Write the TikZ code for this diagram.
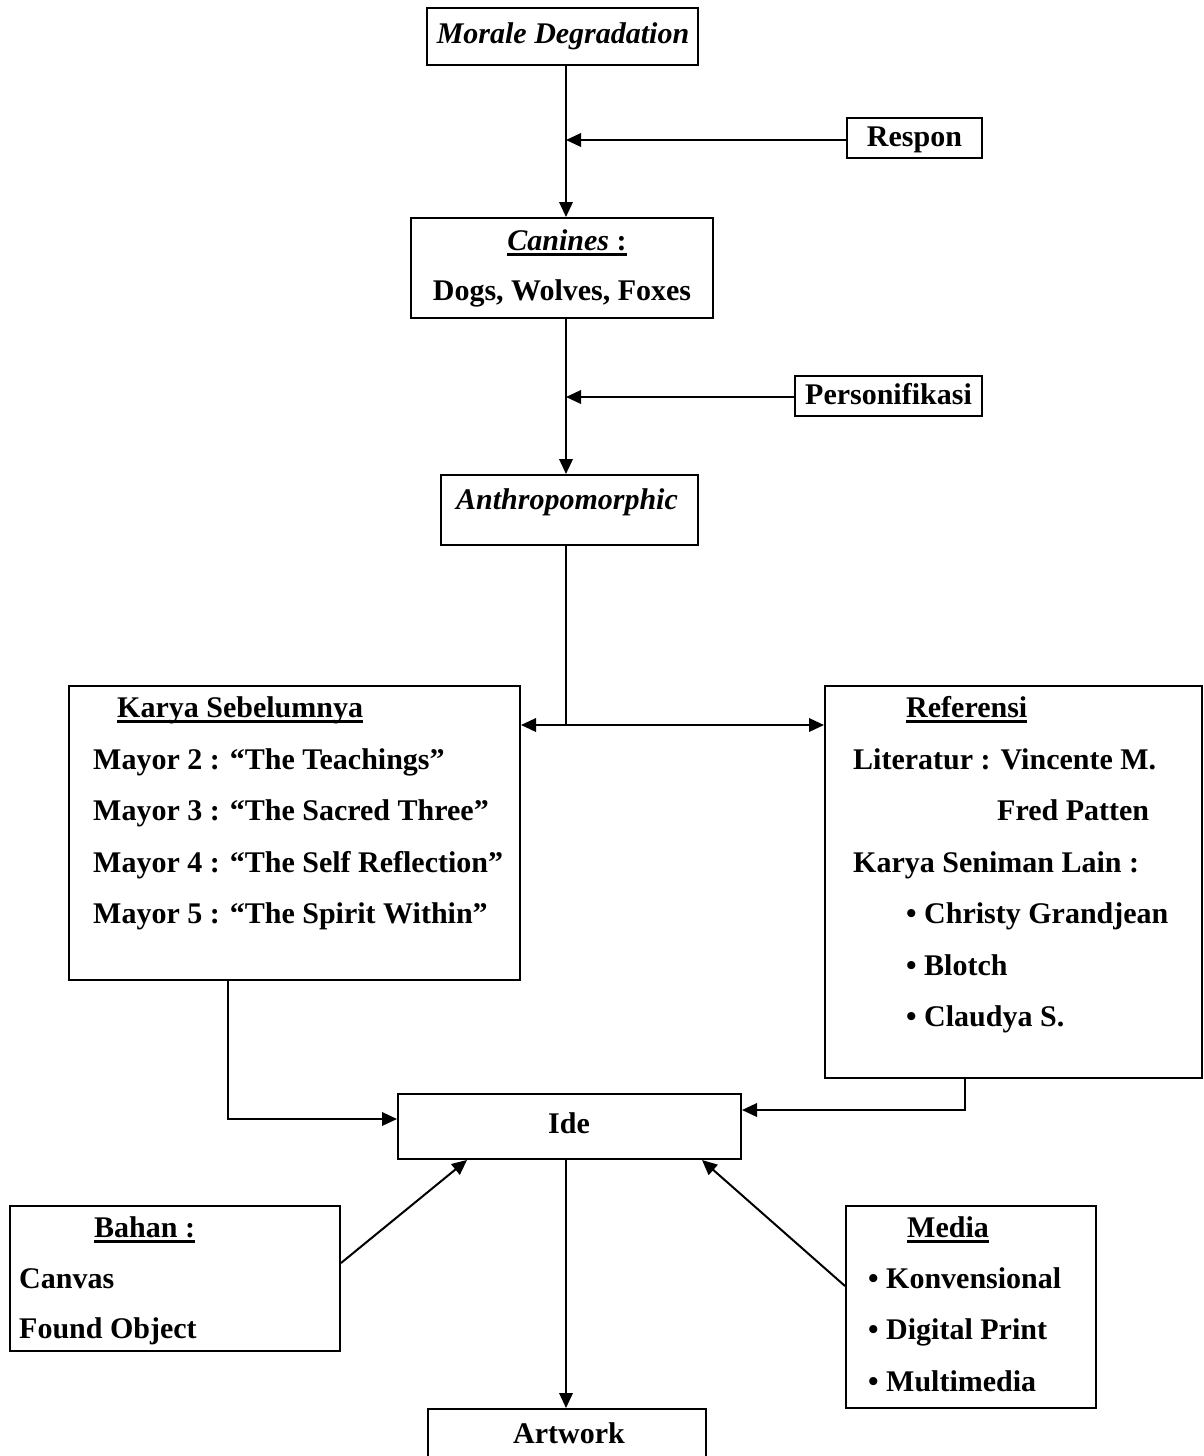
\documentclass[tikz,border=0pt]{standalone}
\usepackage{fontspec}
\setmainfont{Liberation Serif}
\usetikzlibrary{arrows.meta}
\newcommand\myul[1]{\setbox0\hbox{#1}\rlap{\rule[-6pt]{\wd0}{2.6pt}}\box0}
\begin{document}
\begin{tikzpicture}[x=1pt,y=-1pt,
  box/.style={draw,line width=2pt,inner sep=0pt,rectangle},
  txt/.style={inner sep=0pt,font=\fontsize{30}{36}\selectfont\bfseries},
  arr/.style={line width=2pt,-{Triangle[length=15pt,width=13.5pt]}},
  ln/.style={line width=2pt}]
\useasboundingbox (0,0) rectangle (1204,1456);
\coordinate (sx) at (566,0);
% boxes
\node[box,minimum width=271pt,minimum height=57pt] (morale) at (562.5,36.5) {};
\node[box,minimum width=135pt,minimum height=40pt] (respon) at (914.5,138) {};
\node[box,minimum width=302pt,minimum height=100pt] (canines) at (562,268) {};
\node[box,minimum width=187pt,minimum height=40pt] (personif) at (888.5,396) {};
\node[box,minimum width=257pt,minimum height=70pt] (anthro) at (569.5,510) {};
\node[box,minimum width=451pt,minimum height=294pt] (karya) at (294.5,833) {};
\node[box,minimum width=377pt,minimum height=392pt] (ref) at (1013.5,882) {};
\node[box,minimum width=343pt,minimum height=65pt] (ide) at (569.5,1126.5) {};
\node[box,minimum width=330pt,minimum height=145pt] (bahan) at (175,1278.5) {};
\node[box,minimum width=250pt,minimum height=202pt] (media) at (971,1307) {};
\node[box,minimum width=278pt,minimum height=100pt] (artwork) at (567,1459) {};
% texts
\node[txt,anchor=base] (t1) at (563,43) {\textit{Morale Degradation}};
\node[txt,anchor=base] (t2) at (914.5,146) {Respon};
\node[txt,anchor=base] (t3) at (567,250) {\myul{\textit{Canines} :}};
\node[txt,anchor=base] (t4) at (562,300) {Dogs, Wolves, Foxes};
\node[txt,anchor=base] (t5) at (888.5,404) {Personifikasi};
\node[txt,anchor=base] (t6) at (567,509) {\textit{Anthropomorphic}};
\node[txt,anchor=base west] (k0) at (117,717) {\myul{Karya Sebelumnya}};
\node[txt,anchor=base west] (k1) at (93,769) {Mayor 2 : “The Teachings”};
\node[txt,anchor=base west] (k2) at (93,820.5) {Mayor 3 : “The Sacred Three”};
\node[txt,anchor=base west] (k3) at (93,872) {Mayor 4 : “The Self Reflection”};
\node[txt,anchor=base west] (k4) at (93,923.5) {Mayor 5 : “The Spirit Within”};
\node[txt,anchor=base west] (r0) at (906,717) {\myul{Referensi}};
\node[txt,anchor=base west] (r1) at (853,769) {Literatur : Vincente M.};
\node[txt,anchor=base west] (r2) at (997,820.5) {Fred Patten};
\node[txt,anchor=base west] (r3) at (853,872) {Karya Seniman Lain :};
\node[txt,anchor=base west] (r4) at (906,923.5) {• Christy Grandjean};
\node[txt,anchor=base west] (r5) at (906,975) {• Blotch};
\node[txt,anchor=base west] (r6) at (906,1026.5) {• Claudya S.};
\node[txt,anchor=base] (t7) at (569,1133) {Ide};
\node[txt,anchor=base west] (b0) at (94,1237) {\myul{Bahan :}};
\node[txt,anchor=base west] (b1) at (19,1288) {Canvas};
\node[txt,anchor=base west] (b2) at (19,1338.5) {Found Object};
\node[txt,anchor=base west] (m0) at (907,1237) {\myul{Media}};
\node[txt,anchor=base west] (m1) at (868,1288) {• Konvensional};
\node[txt,anchor=base west] (m2) at (868,1339.5) {• Digital Print};
\node[txt,anchor=base west] (m3) at (868,1391) {• Multimedia};
\node[txt,anchor=base] (t8) at (569,1443) {Artwork};
% connectors
\draw[arr] (morale.south -| sx) -- (canines.north -| sx);
\draw[arr] ([yshift=-2pt]respon.west) -- ([yshift=-2pt]respon.west -| sx);
\draw[arr] (canines.south -| sx) -- (anthro.north -| sx);
\draw[arr] ([yshift=-1pt]personif.west) -- ([yshift=-1pt]personif.west -| sx);
\coordinate (j) at (566,725);
\draw[ln] (anthro.south -| j) -- (j);
\draw[arr] (j) -- (j -| karya.east);
\draw[arr] (j) -- (j -| ref.west);
\coordinate (kx) at (228,0);
\coordinate (rx) at (965,0);
\draw[arr] (karya.south -| kx) |- ([yshift=7.5pt]ide.west);
\draw[arr] (ref.south -| rx) |- ([yshift=16.5pt]ide.east);
\draw[arr] ([yshift=15.5pt]bahan.east) -- ([xshift=-102.5pt]ide.south);
\draw[arr] ([yshift=21pt]media.west) -- ([xshift=132.5pt]ide.south);
\draw[arr] (ide.south -| sx) -- (artwork.north -| sx);
\end{tikzpicture}
\end{document}
